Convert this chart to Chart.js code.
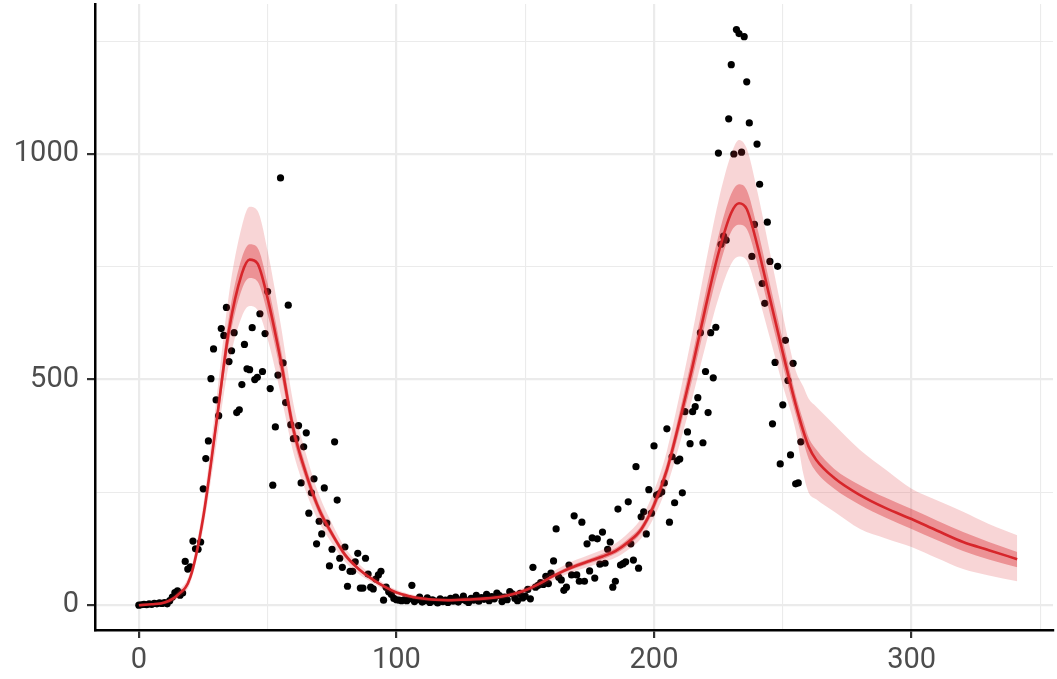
<!DOCTYPE html>
<html lang="en">
<head>
    <meta charset="UTF-8">
    <title>Fit</title>
    <script src="https://cdn.jsdelivr.net/npm/chart.js"></script>
    <style>
        body { margin: 0; background: #fff; }
        #wrap { width: 1057px; height: 679px; }
    </style>
</head>
<body>
    <div id="wrap"><canvas id="myChart" width="1057" height="679"></canvas></div>
    <script>
        // observed daily counts
        var obsDay = [];
        var obsVal = [0,1,2,1,3,2,4,3,5,4,6,3,10,18,28,32,22,27,97,80,85,142,125,124,140,258,325,364,502,568,
            455,420,613,598,660,540,564,604,427,433,489,578,524,522,615,500,505,646,518,602,
            695,480,266,395,510,947,537,449,665,400,369,369,398,271,351,382,204,249,280,136,
            186,158,260,182,87,124,362,233,104,84,129,42,75,75,96,115,38,38,104,69,
            40,36,58,67,75,11,40,30,24,15,12,11,10,12,10,14,44,8,12,18,
            7,10,16,6,12,9,5,14,8,11,6,15,9,18,7,12,20,10,6,15,
            11,22,9,17,13,24,10,19,14,27,21,8,18,12,30,25,15,10,26,16,
            20,35,14,84,40,44,50,46,64,48,71,98,169,62,56,33,40,89,67,198,
            67,53,184,53,136,76,149,60,147,91,162,93,124,140,40,53,213,89,92,96,
            229,136,100,307,82,196,207,158,256,204,353,244,247,251,271,391,184,329,227,320,
            324,249,429,384,358,429,440,460,604,360,518,427,604,504,616,1002,800,818,809,1078,
            1198,1000,1276,1267,1004,1260,1160,1069,773,844,1022,933,713,669,849,762,402,538,751,313,
            444,587,498,333,536,269,271,362];
        for (var i = 0; i < obsVal.length; i++) obsDay.push(i);

        // fitted curve and credible bands
        var fitDay = [0,5,10,15,20,25,30,35,40,43,46,50,55,60,65,70,75,80,85,90,95,100,105,110,115,120,125,130,135,140,
            145,150,155,160,165,170,175,180,185,190,195,200,205,210,215,220,225,230,233,236,240,245,250,255,258,
            260,263,270,280,290,300,310,320,330,341];
        var fitMid = [0,2,6,22,62,195,400,610,735,766,758,680,545,390,290,212,158,112,82,60,42,28,20,15,12,11,12,13,15,18,
            24,33,46,62,76,88,98,108,120,140,168,222,300,410,530,660,780,870,891,878,800,680,560,445,385,
            352,322,282,244,215,191,165,140,122,102];
        var innerLo = [0,1,4,19,57,185,382,582,700,725,718,645,518,370,275,201,150,106,78,57,39,26,18,13,10,9,10,11,13,16,
            22,30,43,58,72,83,93,102,114,133,160,211,285,390,504,627,742,828,843,834,760,646,532,423,362,
            325,295,258,222,194,169,144,120,101,84];
        var innerHi = [1,3,8,25,67,205,418,640,770,800,793,712,572,410,305,223,166,118,86,63,45,30,22,17,14,13,14,15,17,20,
            26,36,49,66,81,93,103,114,126,147,176,233,315,430,556,692,818,912,933,920,838,712,587,466,408,
            372,345,302,266,238,213,187,162,140,118];
        var outerLo = [0,0,2,15,50,170,352,535,640,663,655,590,470,338,250,183,137,97,71,52,35,22,15,10,8,7,8,9,10,13,
            18,27,39,53,66,77,86,95,105,123,148,195,263,358,462,575,680,757,773,764,696,592,487,387,290,
            250,235,207,169,148,129,104,80,66,53];
        var outerHi = [2,5,10,30,75,222,450,690,840,883,875,785,625,447,333,244,181,128,94,69,49,34,25,20,16,16,17,18,20,24,
            30,40,54,72,88,101,112,123,137,160,192,253,342,468,606,755,895,1000,1031,1012,920,782,644,520,484,
            458,440,400,344,300,258,232,207,180,155];

        var xTicks = [0,50,100,150,200,250,300,350];
        var yTicks = [0,250,500,750,1000,1250];

        function pts(xs, ys) {
            return xs.map(function(x, k) { return {x: x, y: ys[k]}; });
        }

        var band = {
            showLine: true,
            pointRadius: 0,
            borderWidth: 0,
            borderColor: 'rgba(0,0,0,0)',
            cubicInterpolationMode: 'monotone'
        };

        var ctx = document.getElementById('myChart');
        new Chart(ctx, {
            type: 'scatter',
            data: {
                datasets: [
                    {data: pts(fitDay, fitMid), showLine: true, pointRadius: 0, borderColor: '#d7262b', borderWidth: 2.6,
                     cubicInterpolationMode: 'monotone', order: 0},
                    Object.assign({data: pts(fitDay, innerHi), fill: '+1', backgroundColor: 'rgba(218,45,50,0.4)', order: 1}, band),
                    Object.assign({data: pts(fitDay, innerLo), fill: false, order: 1}, band),
                    Object.assign({data: pts(fitDay, outerHi), fill: '+1', backgroundColor: 'rgba(218,45,50,0.2)', order: 2}, band),
                    Object.assign({data: pts(fitDay, outerLo), fill: false, order: 2}, band),
                    {data: pts(obsDay, obsVal), pointRadius: 3.6, pointBackgroundColor: '#000', pointBorderWidth: 0, order: 3}
                ]
            },
            options: {
                responsive: false,
                animation: false,
                layout: { padding: 0 },
                plugins: { legend: { display: false }, tooltip: { enabled: false } },
                scales: {
                    x: {
                        type: 'linear',
                        min: -17.02,
                        max: 354.9,
                        afterBuildTicks: function(s) { s.ticks = xTicks.map(function(v) { return {value: v}; }); },
                        afterFit: function(s) { s.height = 49; s.paddingLeft = 0; s.paddingRight = 0; },
                        border: { display: true, color: '#000', width: 2.5 },
                        grid: {
                            color: '#ebebeb',
                            lineWidth: function(c) { return c.tick && c.tick.value % 100 === 0 ? 2.2 : 1.1; },
                            tickColor: function(c) { return c.tick && c.tick.value % 100 === 0 ? '#333' : 'rgba(0,0,0,0)'; },
                            tickWidth: 2.2,
                            tickLength: 8
                        },
                        ticks: {
                            padding: 5,
                            color: '#4d4d4d',
                            font: { family: 'Roboto', size: 29 },
                            maxRotation: 0,
                            callback: function(v) { return v % 100 === 0 ? v : ''; }
                        }
                    },
                    y: {
                        min: -55,
                        max: 1332.5,
                        afterBuildTicks: function(s) { s.ticks = yTicks.map(function(v) { return {value: v}; }); },
                        afterFit: function(s) { s.width = 95; s.paddingTop = 0; s.paddingBottom = 0; },
                        border: { display: true, color: '#000', width: 2.5 },
                        grid: {
                            color: '#ebebeb',
                            lineWidth: function(c) { return c.tick && c.tick.value % 500 === 0 ? 2.2 : 1.1; },
                            tickColor: function(c) { return c.tick && c.tick.value % 500 === 0 ? '#333' : 'rgba(0,0,0,0)'; },
                            tickWidth: 2.2,
                            tickLength: 8
                        },
                        ticks: {
                            padding: 8,
                            color: '#4d4d4d',
                            font: { family: 'Roboto', size: 29 },
                            callback: function(v) { return v % 500 === 0 ? v : ''; }
                        }
                    }
                }
            }
        });
    </script>
</body>
</html>
